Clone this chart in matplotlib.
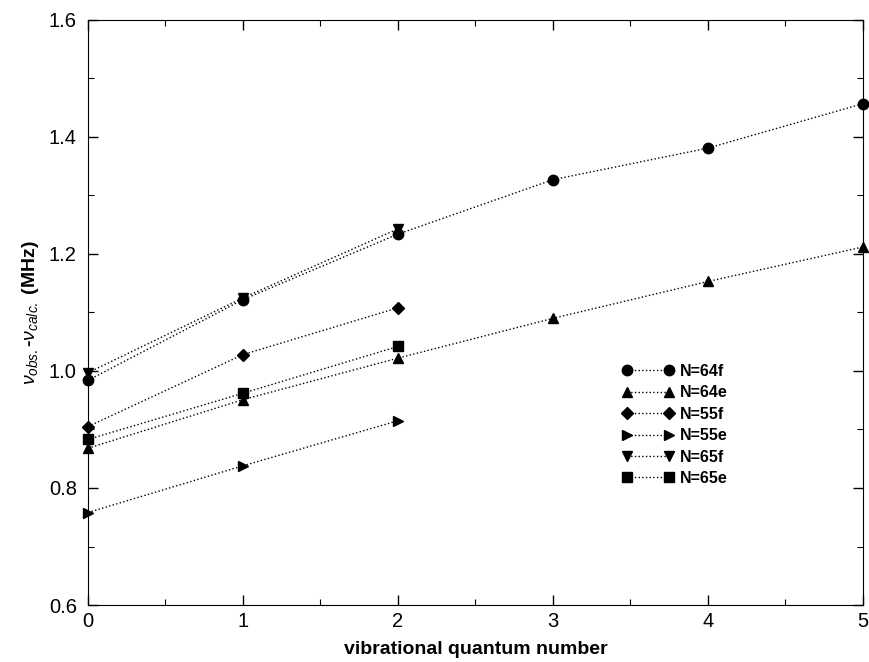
import numpy as np
from matplotlib import pyplot as plt
from matplotlib.ticker import MultipleLocator

plt.rcParams["font.family"] = ["Liberation Sans", "DejaVu Sans"]
plt.rcParams["mathtext.fontset"] = "custom"
plt.rcParams["mathtext.rm"] = "Liberation Sans"
plt.rcParams["mathtext.it"] = "Liberation Sans:italic"
plt.rcParams["mathtext.bf"] = "Liberation Sans:bold"

v_long = [0, 1, 2, 3, 4, 5]
v_short = [0, 1, 2]

n64f = [0.984, 1.122, 1.234, 1.327, 1.381, 1.457]
n64e = [0.868, 0.951, 1.022, 1.090, 1.153, 1.212]
n55f = [0.905, 1.028, 1.108]
n55e = [0.758, 0.838, 0.915]
n65f = [0.997, 1.125, 1.243]
n65e = [0.883, 0.962, 1.042]

series = [
    ("N=64f", v_long, n64f, "o", 7.5),
    ("N=64e", v_long, n64e, "^", 7.5),
    ("N=55f", v_short, n55f, "D", 6.5),
    ("N=55e", v_short, n55e, ">", 7.5),
    ("N=65f", v_short, n65f, "v", 7.5),
    ("N=65e", v_short, n65e, "s", 6.5),
]

fig = plt.figure(figsize=(8.7, 6.62), dpi=100)
ax = fig.add_axes([0.1011, 0.0861, 0.8908, 0.8837])

for label, x, y, m, ms in series:
    ax.plot(x, y, linestyle=":", color="black", linewidth=1.0,
            marker=m, markersize=ms, markerfacecolor="black",
            markeredgecolor="black", label=label, clip_on=False, zorder=3)

ax.set_xlim(0, 5)
ax.set_ylim(0.6, 1.6)
ax.xaxis.set_major_locator(MultipleLocator(1))
ax.xaxis.set_minor_locator(MultipleLocator(0.5))
ax.yaxis.set_major_locator(MultipleLocator(0.2))
ax.yaxis.set_minor_locator(MultipleLocator(0.1))
ax.yaxis.set_major_formatter(plt.FormatStrFormatter("%.1f"))
ax.tick_params(which="both", direction="in", top=True, right=True, labelsize=14.5)
ax.tick_params(which="major", length=7, width=1)
ax.tick_params(which="minor", length=4, width=0.8)
ax.tick_params(axis="x", pad=5)
ax.tick_params(axis="y", pad=8)

ax.set_xlabel("vibrational quantum number", fontsize=14, fontweight="bold", labelpad=7)
ax.set_ylabel(r"$\nu_{obs.}$-$\nu_{calc.}$ (MHz)", fontsize=14, fontweight="bold", labelpad=6)

leg = ax.legend(loc="upper left", bbox_to_anchor=(0.690, 0.412), frameon=False,
                numpoints=2, handlelength=3.2, handletextpad=0.35,
                labelspacing=0.4, borderpad=0, borderaxespad=0,
                prop={"weight": "bold", "size": 11.5})

fig.savefig("out.png", dpi=100)
